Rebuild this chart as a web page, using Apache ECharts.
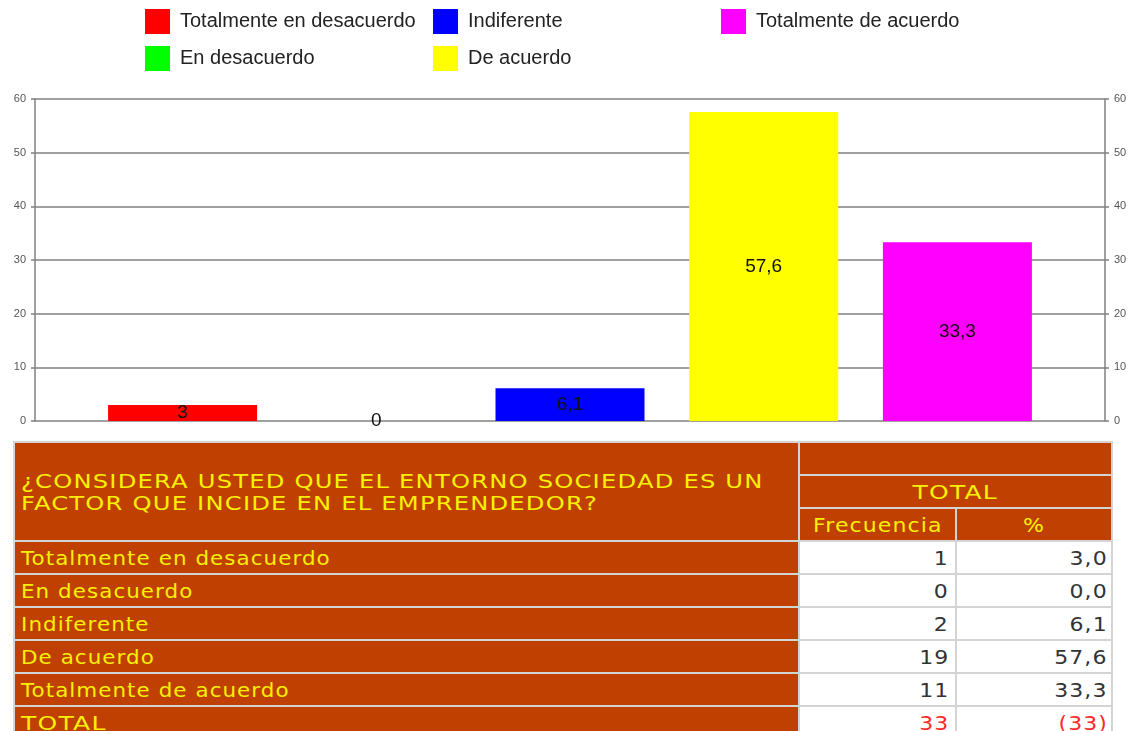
<!DOCTYPE html>
<html>
<head>
<meta charset="utf-8">
<script src="https://cdn.jsdelivr.net/npm/echarts@6/dist/echarts.min.js"></script>
<style>
html, body { margin: 0; padding: 0; background: #fff; width: 1134px; height: 731px; overflow: hidden; }
#chart { position: absolute; left: 0; top: 0; width: 1134px; height: 441px; }
#tabla { position: absolute; left: 13px; top: 441px; width: 1100px; border-collapse: separate; border-spacing: 2px; background: #d4d4d4;
  font-family: "DejaVu Sans", sans-serif; font-size: 20px; letter-spacing: 1px; }
#tabla td { height: 31px; padding: 0 6px; box-sizing: border-box; white-space: nowrap; }
#tabla td.h { background: #bf4000; color: #f8f000; }
#tabla td.n { background: #fff; color: #333; text-align: right; }
#tabla td.p { padding-right: 3px; }
#tabla td.r { color: #ff2a2a; }
#tabla td.q { line-height: 22px; }
#tabla span { display: inline-block; transform-origin: left center; }
#tabla span.c { transform-origin: center center; }
#tabla span.d { transform-origin: right center; }
</style>
</head>
<body>
<div id="chart"></div>
<table id="tabla"></table>
<script>
var categorias = ['Totalmente en desacuerdo', 'En desacuerdo', 'Indiferente', 'De acuerdo', 'Totalmente de acuerdo'];
var colores = ['#ff0000', '#00ff00', '#0000ff', '#ffff00', '#ff00ff'];
var frecuencias = [1, 0, 2, 19, 11];
var porcentajes = [3, 0, 6.1, 57.6, 33.3];
var total = 33;
var pregunta = '¿CONSIDERA USTED QUE EL ENTORNO SOCIEDAD ES UN<br>FACTOR QUE INCIDE EN EL EMPRENDEDOR?';
var yTicks = [0, 10, 20, 30, 40, 50, 60];

var chart = echarts.init(document.getElementById('chart'), null, {renderer: 'canvas'});

function coma(v) {
    return String(v).replace('.', ',');
}

var series = categorias.map(function (c, i) {
    return {
        name: c,
        type: 'bar',
        data: [porcentajes[i]],
        barWidth: 149,
        barGap: '30%',
        itemStyle: {color: colores[i]},
        label: {
            show: true,
            position: 'inside',
            color: '#111',
            fontSize: 19,
            fontFamily: 'Liberation Sans',
            formatter: function (p) { return coma(p.value); }
        }
    };
});

function leyenda(left, nombres) {
    return {
        orient: 'vertical',
        left: left,
        top: 9,
        padding: 0,
        itemWidth: 25,
        itemHeight: 25,
        itemGap: 12,
        icon: 'rect',
        data: nombres,
        textStyle: {fontSize: 20, color: '#222', fontFamily: 'Liberation Sans', padding: [0, 0, 0, 5]}
    };
}

var ejeY = function (pos) {
    return {
        type: 'value',
        position: pos,
        min: yTicks[0],
        max: yTicks[yTicks.length - 1],
        interval: 10,
        axisLine: {show: true, lineStyle: {color: '#808080', width: 1.5}},
        axisTick: {show: true, length: 4, lineStyle: {color: '#808080', width: 1.5}},
        axisLabel: {color: '#555', fontSize: 11, fontFamily: 'Liberation Sans', margin: 9},
        splitLine: {show: pos === 'left', lineStyle: {color: '#808080', width: 1.5}}
    };
};

chart.setOption({
    animation: false,
    legend: [
        leyenda(145, [categorias[0], categorias[1]]),
        leyenda(433, [categorias[2], categorias[3]]),
        leyenda(721, [categorias[4]])
    ],
    grid: {left: 35, right: 29, top: 99, bottom: 20},
    xAxis: {type: 'category', data: [''], show: false},
    yAxis: [ejeY('left'), ejeY('right')],
    series: series
});

// tabla de frecuencias (texto ensanchado como la fuente original)
function txt(s, k, cls) {
    return '<span class="' + (cls || '') + '" style="transform:scaleX(' + k + ')">' + s + '</span>';
}
var html = '';
html += '<tr><td class="h q" rowspan="3" style="width:783px">' + txt(pregunta, 1.21) + '</td><td class="h" colspan="2"></td></tr>';
html += '<tr><td class="h" colspan="2" style="text-align:center">' + txt('TOTAL', 1.25, 'c') + '</td></tr>';
html += '<tr><td class="h" style="text-align:center;width:155px">' + txt('Frecuencia', 1.1, 'c') + '</td><td class="h" style="text-align:center">' + txt('%', 1.1, 'c') + '</td></tr>';
categorias.forEach(function (c, i) {
    html += '<tr><td class="h">' + txt(c, 1.07) + '</td><td class="n">' + txt(frecuencias[i], 1.1, 'd') + '</td><td class="n p">' + txt(porcentajes[i].toFixed(1).replace('.', ','), 1.1, 'd') + '</td></tr>';
});
html += '<tr><td class="h">' + txt('TOTAL', 1.25) + '</td><td class="n r">' + txt(total, 1.1, 'd') + '</td><td class="n p r">' + txt('(' + total + ')', 1.1, 'd') + '</td></tr>';
document.getElementById('tabla').innerHTML = html;
</script>
</body>
</html>
